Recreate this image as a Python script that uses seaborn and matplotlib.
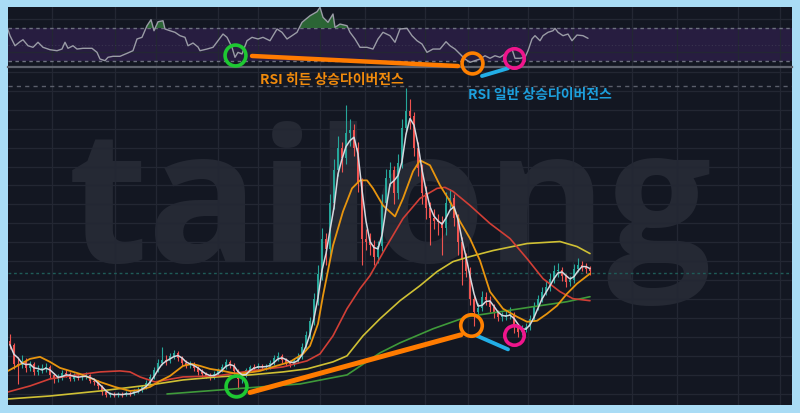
import numpy as np
import pandas as pd
import matplotlib
matplotlib.use("Agg")
import matplotlib.pyplot as plt
from matplotlib.patches import Rectangle
import seaborn as sns

# ---------------- data (price units, bar index units) ----------------
first_open = 64
close = [60, 41, 40, 44, 37, 41, 33, 35, 37, 38, 30, 26, 27, 32, 31, 26, 29, 28, 28, 30,
         24, 23, 19, 13, 10, 11, 10, 11, 10, 12, 11, 14, 15, 18, 22, 28, 35, 42, 45, 44,
         49, 52, 47, 42, 40, 41, 37, 33, 31, 29, 28, 31, 35, 38, 43, 40, 34, 26, 30, 35,
         38, 37, 39, 38, 38, 42, 47, 49, 45, 42, 41, 44, 48, 58, 70, 84, 106, 131, 166, 156,
         201, 234, 256, 246, 271, 274, 256, 221, 166, 163, 160, 148, 159, 201, 226, 234, 211, 241, 276, 293,
         288, 256, 236, 211, 196, 186, 183, 182, 176, 201, 206, 186, 163, 146, 134, 106, 93, 97, 108, 105,
         98, 92, 88, 88, 90, 91, 78, 73, 76, 78, 86, 98, 106, 113, 118, 126, 134, 135, 129, 123,
         125, 136, 140, 138, 136, 134]
high = [71, 62, 48, 50, 47, 44, 43, 40, 41, 42, 40, 32, 31, 35, 36, 33, 32, 31, 31, 33,
        31, 27, 25, 20, 15, 13, 13, 13, 13, 14, 14, 16, 18, 20, 25, 31, 38, 46, 58, 50,
        52, 55, 54, 49, 45, 44, 43, 39, 36, 33, 32, 34, 37, 41, 46, 45, 42, 36, 33, 37,
        40, 41, 42, 41, 41, 45, 50, 53, 51, 47, 45, 47, 52, 62, 74, 88, 112, 140, 176, 172,
        210, 245, 268, 262, 299, 285, 280, 262, 226, 175, 172, 165, 164, 210, 235, 242, 238, 250, 285, 316,
        305, 292, 262, 240, 218, 202, 195, 190, 188, 212, 215, 210, 190, 168, 152, 138, 110, 102, 114, 113,
        109, 101, 95, 93, 95, 98, 93, 80, 80, 82, 90, 103, 110, 118, 124, 132, 140, 142, 138, 131,
        129, 141, 147, 144, 142, 139]
low = [56, 36, 21, 37, 33, 34, 30, 30, 32, 33, 27, 22, 23, 25, 28, 24, 24, 25, 25, 26,
       22, 20, 16, 10, 8, 8, 8, 8, 8, 9, 9, 10, 12, 13, 16, 20, 26, 33, 40, 40,
       42, 46, 44, 39, 37, 37, 34, 30, 28, 27, 25, 26, 29, 33, 36, 37, 31, 16, 22, 28,
       33, 34, 35, 35, 35, 36, 40, 44, 42, 39, 38, 39, 42, 46, 55, 66, 80, 100, 125, 140,
       150, 195, 228, 232, 240, 258, 248, 212, 140, 155, 150, 140, 142, 154, 196, 218, 200, 205, 236, 270,
       275, 248, 228, 200, 185, 160, 175, 170, 150, 170, 195, 178, 150, 120, 128, 100, 79, 88, 94, 100,
       93, 87, 84, 84, 85, 86, 72, 68, 70, 73, 75, 84, 95, 103, 110, 114, 122, 128, 124, 118,
       119, 122, 133, 134, 132, 130]

ma_fast_x = [-0.5, 5, 7.5, 10, 12.5, 17.5, 22.5, 26.25, 30, 32.5, 35, 37.5, 40, 43.25, 45.5, 47.5, 50,
             53.25, 56.75, 59.25, 62.5, 65.75, 70, 73.25, 75, 77, 78.25, 80.75, 83.25, 85.5, 87.5,
             89.25, 90.75, 93.25, 96.25, 98.25, 100.75, 102.5, 105, 107.5, 110, 112.5, 115, 117.5,
             120, 123.25, 126.75, 129.25, 131.75, 134.25, 136.75, 139.25, 141.75, 145]
ma_fast_v = [34, 46, 48, 43, 37, 31, 23, 18, 14, 15, 18, 24, 29, 39, 41, 39, 36,
             34, 31, 32, 34, 38, 43, 51, 59, 81, 109, 159, 193, 216, 224,
             224, 216, 199, 188, 206, 233, 244, 239, 219, 203, 183, 166, 144,
             113, 96, 88, 83, 84, 91, 99, 111, 121, 131]

ma_mid_x = [-0.5, 5, 10, 15, 22.5, 27.5, 30, 32.5, 36.25, 43.25, 51.75, 60, 68.25, 74.25, 77.5,
            80.75, 84.25, 87.5, 90, 94.25, 98.25, 102.5, 106.75, 108.75, 110.75, 115, 120, 125,
            129.25, 133.25, 137.5, 140.75, 145]
ma_mid_v = [13, 19, 26, 29, 33, 34, 33, 28, 23, 28, 29, 34, 38, 44, 51,
            69, 96, 116, 129, 159, 186, 206, 216, 217, 213, 199, 181, 166,
            146, 126, 113, 106, 104]

ma_slow_x = [-0.5, 10, 22.5, 35, 43.25, 51.75, 60, 68.25, 74.25, 80.75, 84.25, 88.25, 92.5, 97.5,
             102.5, 106.75, 110.75, 115, 120.75, 129.25, 137.5, 141.75, 145]
ma_slow_v = [6, 9, 14, 20, 25, 28, 30, 33, 36, 43, 49, 69, 86, 104,
             119, 133, 143, 148, 154, 161, 163, 158, 151]

ma_long_x = [39.25, 55.75, 72.5, 84.25, 92.5, 97.5, 105.75, 114.25, 122.5, 130.75, 139.25, 145]
ma_long_v = [11, 16, 21, 30, 52, 62, 76, 88, 93, 98, 103, 108]

rsi_x = [-0.7, 0, 1.25, 2.5, 3.25, 4.5, 5.75, 7, 8.25, 10, 11.75, 13, 13.75, 14.5, 15.75, 16.75,
         18.25, 20.5, 21.75, 22.5, 23.75, 24.5, 25.75, 27.5, 29.25, 30.75, 31.75, 33, 34.25, 35.25,
         36, 37, 38.25, 38.75, 40, 41.25, 42.5, 43.75, 44.5, 45.75, 47, 47.5, 49.25, 50.75, 52,
         53.25, 54.25, 55.5, 56.25, 57, 58, 59.25, 60.5, 62, 63.25, 65, 66.75, 68, 69.25, 70.5,
         71.75, 73, 75, 76.75, 77.5, 78.25, 79.5, 80.75, 81.25, 82.5, 84.25, 85, 86.25, 87.5,
         89.25, 90.75, 92, 93.25, 95, 96.25, 97.5, 99.25, 100.5, 101.75, 103, 104.25, 105.75,
         107.5, 109, 110, 111.25, 112.5, 113.75, 115, 116.25, 117.5, 118.75, 120, 121.25, 122.5,
         123.75, 125.5, 126.25, 127.5, 128.75, 129.5, 130.5, 131.25, 132.5, 133.25, 134.5, 135.75,
         136.25, 137, 138.25, 139.5, 140.5, 141.75, 143.25, 144.5]
rsi_v = [70.8, 60.7, 48.5, 53.4, 55.8, 48.5, 46.6, 52.7, 46.6, 43.7, 42.5, 44.5, 52.7, 45.4, 48.5, 44.5,
         45.4, 45.4, 40.5, 32.4, 30.4, 34.5, 35.7, 35.7, 39.3, 42.5, 56.7, 58.7, 72.8, 80.1,
         66.7, 77.6, 78.8, 68.8, 66.7, 64.8, 60.7, 58.7, 48.5, 51.8, 47.0, 42.5, 44.5, 46.6, 54.6,
         62.7, 58.7, 46.6, 34.5, 40.5, 38.5, 54.6, 58.7, 56.7, 58.7, 54.6, 68.8, 64.8, 56.7, 60.7,
         64.8, 76.9, 84.9, 89.8, 95.1, 83.0, 76.9, 87.0, 70.8, 74.8, 72.8, 64.8, 56.7, 46.6,
         46.6, 44.5, 56.7, 64.8, 60.7, 52.7, 68.8, 69.6, 60.7, 54.6, 50.6, 40.5, 44.5,
         44.5, 53.4, 48.5, 44.5, 38.5, 32.4, 28.4, 30.4, 32.4, 36.4, 33.3, 36.4, 34.5,
         38.5, 44.5, 33.3, 33.3, 34.5, 42.5, 56.7, 60.7, 54.6, 60.7, 64.8, 66.7,
         69.6, 64.8, 60.7, 62.7, 54.6, 61.5, 60.7, 57.5]

time_ticks = [10.5, 26.25, 36.5, 52, 62, 77.5, 88.75, 103.75, 114.5, 129.5, 140.75, 155.5, 166.75, 182, 192.5]
last_price = 132
ref_level = 318

label_hidden = "RSI 히든 상승다이버전스"
label_regular = "RSI 일반 상승다이버전스"

# ---------------- styling ----------------
BG = "#131722"
GRID = "#232733"
sns.set_theme(style="dark", rc={"axes.facecolor": BG, "figure.facecolor": "#a9dcf5"})
plt.rcParams["font.family"] = ["Noto Sans CJK KR", "DejaVu Sans"]

fig = plt.figure(figsize=(8, 4.14), dpi=100)
fig.patch.set_facecolor("#a9dcf5")
fig.patches.append(Rectangle((8 / 800, 8 / 414), 784 / 800, 398 / 414, transform=fig.transFigure,
                             facecolor=BG, edgecolor="none", zorder=-5))

ax = fig.add_axes([0.01, 0.0193, 0.98, 0.8164])
ax_r = fig.add_axes([0.01, 0.8357, 0.98, 0.1450])
ax.set_zorder(1)
ax_r.set_zorder(2)

xlim = (-0.5, 195.5)

# ---------------- main price panel ----------------
df = pd.DataFrame({"close": close, "high": high, "low": low})
df["open"] = df["close"].shift(1).fillna(first_open)
df["i"] = np.arange(len(df))
df["up"] = df["close"] >= df["open"]
df["fastline"] = df["close"].rolling(3, min_periods=1).mean()

ax.set_facecolor(BG)
ax.set_xlim(*xlim)
ax.set_ylim(0, 337)
ax.set_xticks(time_ticks)
ax.set_yticks(np.arange(11, 337, 18.9))
ax.grid(True, color=GRID, lw=0.9)
ax.tick_params(left=False, bottom=False, labelleft=False, labelbottom=False)
for s in ax.spines.values():
    s.set_visible(False)

ax.text(0.487, 0.427, "tailong", transform=ax.transAxes, ha="center", va="baseline",
        fontsize=133, fontweight="bold", family="Open Sans", color="#252934", zorder=0.5)

ax.axhline(ref_level, color="#5a5e6a", lw=1, ls=(0, (3, 3)), zorder=1)
ax.axhline(last_price, color="#1f5c58", lw=1, ls=(0, (2, 2)), zorder=1)

cols = np.where(df["up"], "#26a69a", "#ef5350")
ax.vlines(df["i"], df["low"], df["high"], colors=cols, lw=0.8, zorder=2)
body_bottom = np.minimum(df["open"], df["close"])
body_h = np.maximum(np.abs(df["close"] - df["open"]), 0.8)
ax.bar(df["i"], body_h, bottom=body_bottom, width=0.62, color=cols, linewidth=0, zorder=2.1)

sns.lineplot(x=ma_long_x, y=ma_long_v, ax=ax, color="#3f9a3a", lw=1.2, zorder=3)
sns.lineplot(x=ma_slow_x, y=ma_slow_v, ax=ax, color="#cfc034", lw=1.2, zorder=3)
sns.lineplot(x=ma_mid_x, y=ma_mid_v, ax=ax, color="#d23f36", lw=1.2, zorder=3)
sns.lineplot(x=ma_fast_x, y=ma_fast_v, ax=ax, color="#e8950e", lw=1.3, zorder=3)
sns.lineplot(x=df["i"], y=df["fastline"], ax=ax, color="#d6d8df", lw=1.1, zorder=3.2)

# divergence annotations on price
ax.plot([60, 112.75], [12.5, 70], color="#ff7b00", lw=3.6, solid_capstyle="round", zorder=5, clip_on=False)
ax.plot([116.75, 124.5], [69, 55.5], color="#22aee6", lw=2.8, solid_capstyle="round", zorder=5)
ax.plot([56.6], [19], marker="o", ms=15, mfc="none", mec="#1ec832", mew=2.6, zorder=6, clip_on=False)
ax.plot([115.25], [80], marker="o", ms=15.5, mfc="none", mec="#ff8000", mew=2.6, zorder=6)
ax.plot([126], [69.5], marker="o", ms=14, mfc="none", mec="#f0158c", mew=2.6, zorder=6)

# ---------------- RSI panel ----------------
ax_r.set_facecolor(BG)
ax_r.set_xlim(*xlim)
ax_r.set_ylim(22.7, 95.5)
ax_r.set_xticks(time_ticks)
ax_r.set_yticks([40.9, 81])
ax_r.grid(True, color=GRID, lw=0.9)
ax_r.tick_params(left=False, bottom=False, labelleft=False, labelbottom=False)
for k, s in ax_r.spines.items():
    s.set_visible(k == "bottom")
ax_r.spines["bottom"].set_color("#5f636e")
ax_r.spines["bottom"].set_linewidth(1.6)

ax_r.axhspan(30, 70, color="#271d40", zorder=0.5, lw=0)
ax_r.axhline(70, color="#6e7180", lw=1, ls=(0, (2.5, 2.5)), zorder=1)
ax_r.axhline(30, color="#6e7180", lw=1, ls=(0, (2.5, 2.5)), zorder=1)
ax_r.axhline(50, color="#3a3550", lw=0.8, ls=(0, (1, 2)), zorder=1)

rx = np.array(rsi_x)
rv = np.array(rsi_v)
ax_r.fill_between(rx, 70, rv, where=rv > 70, interpolate=True, color="#2d6a37", alpha=0.95, lw=0, zorder=1.5)
sns.lineplot(x=rsi_x, y=rsi_v, ax=ax_r, color="#9a9ca6", lw=1.0, zorder=2)

ax_r.plot([60.5, 112], [36.1, 23.9], color="#ff7b00", lw=3.2, solid_capstyle="round", zorder=5, clip_on=False)
ax_r.plot([118, 124.5], [11.8, 21.2], color="#22aee6", lw=2.8, solid_capstyle="round", zorder=5, clip_on=False)
ax_r.plot([56.25], [37.3], marker="o", ms=15, mfc="none", mec="#1ec832", mew=2.6, zorder=6, clip_on=False)
ax_r.plot([115.5], [27.6], marker="o", ms=15, mfc="none", mec="#ff8000", mew=2.6, zorder=6, clip_on=False)
ax_r.plot([126], [34.2], marker="o", ms=14, mfc="none", mec="#f0158c", mew=2.6, zorder=6, clip_on=False)

fig.text(260 / 800, 1 - 80 / 414, label_hidden, color="#f08a0c", fontsize=10, fontweight="bold",
         ha="left", va="center", zorder=10)
fig.text(468 / 800, 1 - 95 / 414, label_regular, color="#1d9fdc", fontsize=10, fontweight="bold",
         ha="left", va="center", zorder=10)

fig.savefig("out.png", dpi=100, facecolor=fig.get_facecolor())
